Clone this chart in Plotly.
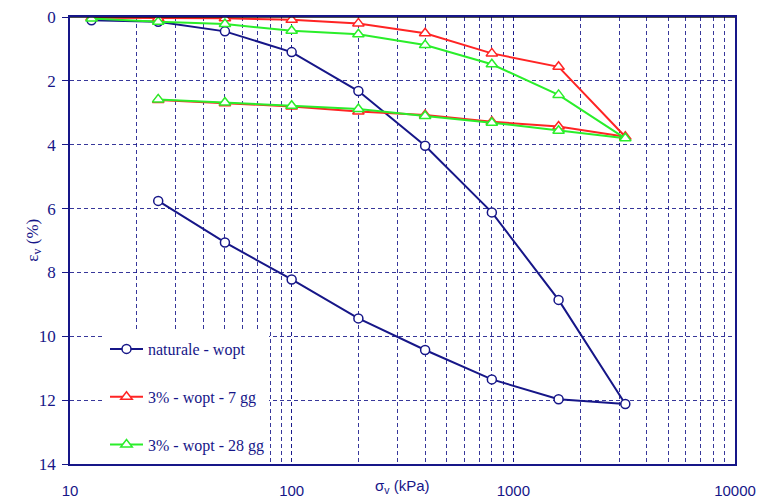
import plotly.graph_objects as go

# --- data ---
sigma_load = [12.5, 25, 50, 100, 200, 400, 800, 1600, 3200]
sigma_unload = [1600, 800, 400, 200, 100, 50, 25]

nat_load = [0.10, 0.15, 0.45, 1.10, 2.32, 4.03, 6.12, 8.86, 12.12]
nat_unload = [11.97, 11.35, 10.43, 9.44, 8.22, 7.06, 5.76]

r7_load = [0.02, 0.04, 0.04, 0.09, 0.20, 0.51, 1.14, 1.56, 3.75]
r7_unload = [3.43, 3.28, 3.07, 2.96, 2.80, 2.70, 2.60]

g28_load = [0.05, 0.15, 0.22, 0.43, 0.54, 0.88, 1.48, 2.44, 3.80]
g28_unload = [3.56, 3.31, 3.10, 2.88, 2.78, 2.68, 2.58]

names = ["naturale - wopt", "3% - wopt - 7 gg", "3% - wopt - 28 gg"]
y_ticks = [0, 2, 4, 6, 8, 10, 12, 14]
x_ticks = [10, 100, 1000, 10000]

NAVY = "#161688"
colors = [NAVY, "#ff2424", "#2aee2a"]
symbols = ["circle", "triangle-up", "triangle-up"]
series = [(nat_load, nat_unload), (r7_load, r7_unload), (g28_load, g28_unload)]

fig = go.Figure()
for i, (ld, ul) in enumerate(series):
    fig.add_trace(go.Scatter(
        x=sigma_load + sigma_unload,
        y=ld + ul,
        mode="lines+markers",
        name=names[i],
        legendgroup=str(i),
        line=dict(color=colors[i], width=2),
        marker=dict(symbol=symbols[i], size=10 if i else 9, color="white",
                    line=dict(color=colors[i], width=1.5)),
    ))

grid = dict(gridcolor="rgba(20,20,136,0.85)", gridwidth=1, griddash="4px,3px")

fig.update_xaxes(
    type="log", range=[1, 4], tickvals=x_ticks, ticktext=[str(v) for v in x_ticks],
    showline=True, linecolor=NAVY, linewidth=1.5, mirror=True,
    showgrid=True, **grid,
    minor=dict(dtick="D1", showgrid=True, ticks="", **grid),
    ticks="", tickfont=dict(family="Liberation Sans, Arial", size=15, color=NAVY),
    ticklabelstandoff=12, zeroline=False, automargin=False,
)
fig.update_yaxes(
    range=[14, 0], tickvals=y_ticks,
    showline=True, linecolor=NAVY, linewidth=1.5, mirror=True,
    showgrid=True, **grid,
    ticks="outside", ticklen=6, tickcolor=NAVY, tickwidth=1,
    tickfont=dict(family="Liberation Serif, Times New Roman", size=17, color=NAVY),
    ticklabelstandoff=3, zeroline=False, automargin=False,
)

# black top line (y = 0)
fig.add_shape(type="line", xref="paper", yref="y", x0=0, x1=1, y0=0, y1=0,
              line=dict(color="#111111", width=1.5))

fig.add_annotation(text="ε<sub>v</sub> (%)", xref="paper", yref="paper",
                   x=-0.075, y=0.5, textangle=-90, showarrow=False,
                   font=dict(family="Liberation Serif, Times New Roman", size=17, color=NAVY))
fig.add_annotation(text="σ<sub>v</sub> (kPa)", xref="paper", yref="paper",
                   x=(402 - 70) / 665, y=-(486 - 464) / 447, xanchor="center", yanchor="middle",
                   showarrow=False,
                   font=dict(family="Liberation Sans, Arial", size=15, color=NAVY))

fig.update_layout(
    width=760, height=499,
    margin=dict(l=70, r=25, t=17, b=35, autoexpand=False),
    plot_bgcolor="white", paper_bgcolor="white",
    showlegend=True, hovermode=False,
    legend=dict(x=(105 - 70) / 665, y=(464 - 332) / 447, xanchor="left", yanchor="top",
                bgcolor="white", borderwidth=0, tracegroupgap=24,
                font=dict(family="Liberation Serif, Times New Roman", size=16, color=NAVY),
                itemwidth=33),
)

fig.write_html(
    "out.html",
    config={"displayModeBar": False},
    post_script="document.body.style.margin='0';document.body.style.overflow='hidden';",
)
